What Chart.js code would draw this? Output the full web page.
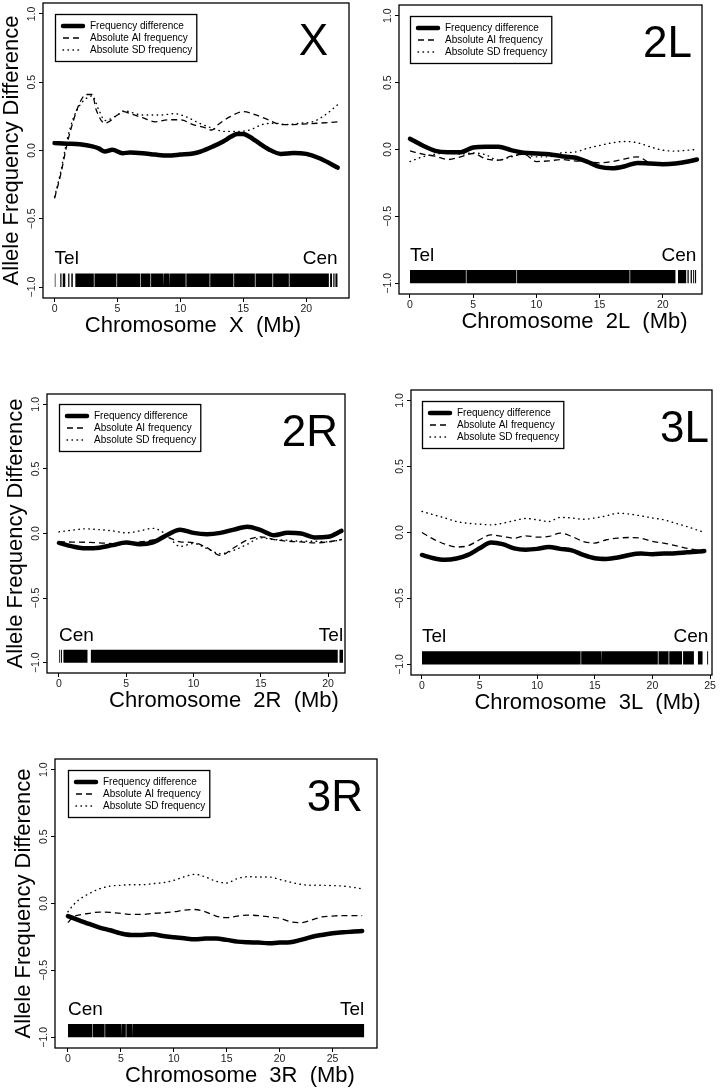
<!DOCTYPE html>
<html>
<head>
<meta charset="utf-8">
<script src="https://cdn.jsdelivr.net/npm/chart.js@4.4.1/dist/chart.umd.min.js"></script>
<style>
  body { margin: 0; background: #fff; width: 725px; height: 1090px; position: relative; overflow: hidden; }
  canvas { position: absolute; }
</style>
</head>
<body>
<canvas id="cX"></canvas>
<canvas id="c2L"></canvas>
<canvas id="c2R"></canvas>
<canvas id="c3L"></canvas>
<canvas id="c3R"></canvas>
<script>
// ---- data (Mb positions and allele frequency values) ----
const legendLabels = ['Frequency difference', 'Absolute AI frequency', 'Absolute SD frequency'];

// chromosome X
const posX_fd = [0, 1, 2, 3, 3.5, 4, 4.6, 5.4, 6, 7, 8, 9, 10, 11, 11.6, 12.6, 13.4, 14, 14.5, 15, 15.5, 16, 17, 18, 19, 20, 21, 22, 22.5];
const fdX = [0.054, 0.05, 0.045, 0.03, 0.015, -0.008, 0.005, -0.02, -0.015, -0.02, -0.03, -0.037, -0.03, -0.022, -0.008, 0.03, 0.066, 0.1, 0.12, 0.12, 0.1, 0.07, 0.01, -0.025, -0.018, -0.025, -0.055, -0.1, -0.125];
const posX_ai = [0, 0.5, 1, 1.5, 2, 2.5, 3, 3.3, 4, 5, 5.5, 6, 7, 8, 9, 10, 11, 12, 12.5, 13, 14, 15, 16, 17, 18, 19, 20, 21, 22.5];
const aiX = [-0.35, -0.17, 0.05, 0.22, 0.35, 0.41, 0.41, 0.3, 0.2, 0.26, 0.285, 0.27, 0.24, 0.21, 0.225, 0.225, 0.19, 0.165, 0.15, 0.19, 0.25, 0.285, 0.26, 0.225, 0.19, 0.19, 0.195, 0.2, 0.21];
const posX_sd = [0, 0.5, 1, 1.5, 2, 2.5, 3, 3.5, 4, 5, 5.5, 7, 8.5, 9.5, 10.5, 11.5, 12.5, 13.5, 14.5, 15.5, 16.5, 17.5, 18.5, 19.5, 20.5, 21.5, 22.5];
const sdX = [-0.34, -0.15, 0.08, 0.24, 0.33, 0.38, 0.4, 0.3, 0.22, 0.26, 0.29, 0.26, 0.26, 0.27, 0.245, 0.2, 0.165, 0.14, 0.14, 0.15, 0.19, 0.2, 0.19, 0.2, 0.21, 0.26, 0.335];
const rugX = [[0, 0.07], [0.45, 0.55], [0.65, 0.85], [1.08, 1.18], [1.33, 1.45], [1.65, 3.12], [3.17, 4.92], [4.97, 6.82], [6.87, 7.62], [7.67, 8.62], [8.67, 9.12], [9.17, 10.42], [10.47, 12.32], [12.37, 14.22], [14.27, 15.92], [15.97, 17.32], [17.37, 18.62], [18.67, 21.8], [21.9, 22.05], [22.15, 22.25], [22.32, 22.5]];

// chromosome 2L
const pos2L = [0, 1, 2, 3, 4, 5, 6, 7, 8, 9, 10, 11, 12, 13, 14, 15, 16, 17, 18, 19, 20, 21, 22, 22.7];
const fd2L = [0.08, 0.03, -0.01, -0.02, -0.02, 0.015, 0.02, 0.02, -0.005, -0.025, -0.03, -0.035, -0.05, -0.06, -0.09, -0.13, -0.14, -0.125, -0.1, -0.105, -0.11, -0.105, -0.09, -0.075];
const ai2L = [-0.01, -0.035, -0.05, -0.075, -0.055, -0.03, -0.07, -0.08, -0.05, -0.035, -0.09, -0.085, -0.075, -0.085, -0.09, -0.1, -0.09, -0.07, -0.055, -0.1, -0.11, -0.105, -0.09, -0.078];
const sd2L = [-0.09, -0.055, -0.035, -0.025, -0.035, -0.025, -0.04, -0.08, -0.055, -0.035, -0.055, -0.055, -0.025, -0.02, 0.008, 0.03, 0.05, 0.06, 0.05, 0.02, -0.005, -0.012, -0.005, 0.0];
const rug2L = [[0, 4.42], [4.47, 8.42], [8.47, 17.37], [17.42, 21.0], [21.2, 21.85], [21.95, 22.05], [22.2, 22.3], [22.4, 22.48], [22.55, 22.65]];

// chromosome 2R
const pos2R = [0, 1, 2, 3, 4, 5, 6, 7, 8, 9, 10, 11, 12, 13, 14, 15, 16, 17, 18, 19, 20, 21];
const fd2R = [-0.073, -0.1, -0.115, -0.11, -0.09, -0.07, -0.083, -0.068, -0.013, 0.03, 0.005, -0.005, 0.005, 0.03, 0.052, 0.026, -0.013, 0.005, 0.0, -0.03, -0.026, 0.02];
const ai2R = [-0.065, -0.066, -0.068, -0.072, -0.078, -0.07, -0.065, -0.05, -0.03, -0.065, -0.07, -0.11, -0.17, -0.11, -0.05, -0.026, -0.047, -0.06, -0.065, -0.073, -0.065, -0.047];
const sd2R = [0.013, 0.026, 0.036, 0.03, 0.02, 0.005, 0.02, 0.04, -0.01, -0.1, -0.078, -0.117, -0.156, -0.13, -0.083, -0.034, -0.047, -0.052, -0.06, -0.06, -0.065, -0.047];
const rug2R = [[0, 0.06], [0.14, 0.22], [0.33, 2.12], [2.37, 20.72], [20.85, 21.12]];

// chromosome 3L
const pos3L = [0, 1, 2, 3, 4, 5, 6, 7, 8, 9, 10, 11, 12, 13, 14, 15, 16, 17, 18, 19, 20, 21, 22, 23, 24, 24.5];
const fd3L = [-0.17, -0.195, -0.207, -0.197, -0.17, -0.12, -0.076, -0.088, -0.12, -0.13, -0.124, -0.11, -0.124, -0.136, -0.17, -0.195, -0.2, -0.19, -0.17, -0.16, -0.164, -0.16, -0.157, -0.15, -0.144, -0.14];
const ai3L = [0.0, -0.05, -0.088, -0.11, -0.1, -0.055, -0.018, -0.03, -0.043, -0.025, -0.035, -0.03, -0.005, -0.03, -0.068, -0.08, -0.055, -0.043, -0.038, -0.043, -0.068, -0.08, -0.1, -0.12, -0.136, -0.144];
const sd3L = [0.16, 0.134, 0.11, 0.083, 0.07, 0.063, 0.058, 0.07, 0.09, 0.106, 0.096, 0.083, 0.114, 0.11, 0.1, 0.11, 0.126, 0.146, 0.14, 0.126, 0.11, 0.096, 0.07, 0.045, 0.015, 0.0];
const rug3L = [[0, 13.77], [13.82, 15.57], [15.62, 20.47], [20.53, 21.4], [21.46, 22.57], [22.66, 23.6], [23.95, 24.35], [24.75, 24.85]];

// chromosome 3R
const pos3R_fd = [0, 1, 2, 3, 4, 5, 6, 7, 8, 9, 10, 11, 12, 13, 14, 15, 16, 17, 18, 19, 20, 21, 22, 23, 24, 25, 26, 27, 27.8];
const fd3R = [-0.094, -0.124, -0.153, -0.18, -0.2, -0.223, -0.235, -0.235, -0.23, -0.243, -0.252, -0.26, -0.267, -0.262, -0.262, -0.272, -0.285, -0.29, -0.292, -0.297, -0.292, -0.29, -0.272, -0.25, -0.235, -0.223, -0.215, -0.21, -0.205];
const pos3R = [0, 0.5, 1, 2, 3, 4, 5, 6, 7, 8, 9, 10, 11, 12, 13, 14, 15, 16, 17, 18, 19, 20, 21, 22, 23, 24, 25, 26, 27, 27.8];
const ai3R = [-0.143, -0.1, -0.087, -0.074, -0.064, -0.067, -0.074, -0.082, -0.082, -0.074, -0.07, -0.062, -0.05, -0.045, -0.062, -0.094, -0.106, -0.094, -0.087, -0.09, -0.1, -0.11, -0.136, -0.143, -0.124, -0.1, -0.094, -0.09, -0.09, -0.09];
const sd3R = [-0.062, -0.012, 0.025, 0.074, 0.11, 0.13, 0.136, 0.14, 0.14, 0.148, 0.156, 0.173, 0.2, 0.218, 0.198, 0.166, 0.153, 0.186, 0.2, 0.198, 0.198, 0.18, 0.16, 0.143, 0.136, 0.136, 0.134, 0.13, 0.12, 0.11];
const rug3R = [[0, 2.32], [2.37, 3.47], [3.52, 5.02], [5.07, 5.47], [5.52, 6.07], [6.12, 28.0]];

// ---- layout ----
const FONT = "'Liberation Sans', Arial, Helvetica, sans-serif";
const RUG_TOP = -0.9, RUG_BOTTOM = -1.0;
const styles = [
  { w: 4.5, dash: [], cap: 'round' },
  { w: 1.3, dash: [6, 4], cap: 'butt' },
  { w: 1.4, dash: [0.5, 4.5], cap: 'round' }
];

const panels = [
  { id: 'cX', name: 'X', box: [43, 3, 349, 298], xMin: -0.92, xMax: 23.4, yTitle: true, ends: ['Tel', 'Cen'], labelGap: 21, titleShift: -3,
    fd: { x: posX_fd, y: fdX }, ai: { x: posX_ai, y: aiX }, sd: { x: posX_sd, y: sdX }, rug: rugX },
  { id: 'c2L', name: '2L', box: [399, 5, 702, 294], xMin: -0.87, xMax: 23.1, yTitle: false, ends: ['Tel', 'Cen'], labelGap: 10, titleShift: 24,
    fd: { x: pos2L, y: fd2L }, ai: { x: pos2L, y: ai2L }, sd: { x: pos2L, y: sd2L }, rug: rug2L },
  { id: 'c2R', name: '2R', box: [47, 394, 345, 673], xMin: -0.89, xMax: 21.26, yTitle: true, ends: ['Cen', 'Tel'], labelGap: 7, titleShift: 28,
    fd: { x: pos2R, y: fd2R }, ai: { x: pos2R, y: ai2R }, sd: { x: pos2R, y: sd2R }, rug: rug2R },
  { id: 'c3L', name: '3L', box: [411, 390, 712, 675], xMin: -0.95, xMax: 25.17, yTitle: false, ends: ['Tel', 'Cen'], labelGap: 3, titleShift: 26,
    fd: { x: pos3L, y: fd3L }, ai: { x: pos3L, y: ai3L }, sd: { x: pos3L, y: sd3L }, rug: rug3L },
  { id: 'c3R', name: '3R', box: [55, 759, 377, 1048], xMin: -1.22, xMax: 29.2, yTitle: true, ends: ['Cen', 'Tel'], labelGap: 14, titleShift: 24,
    fd: { x: pos3R_fd, y: fd3R }, ai: { x: pos3R, y: ai3R }, sd: { x: pos3R, y: sd3R }, rug: rug3R }
];

function rugPoints(segs) {
  const pts = [];
  segs.forEach(([s, e]) => {
    pts.push({ x: s, y: RUG_BOTTOM }, { x: s, y: RUG_TOP }, { x: e, y: RUG_TOP }, { x: e, y: RUG_BOTTOM });
  });
  return pts;
}

// box, legend, chromosome label, Tel/Cen and axis titles
const decor = {
  id: 'decor',
  afterDraw(chart, args, o) {
    const { ctx, chartArea: a, scales: { x, y } } = chart;
    ctx.save();
    ctx.strokeStyle = '#000';
    ctx.fillStyle = '#000';
    ctx.lineWidth = 1.3;
    ctx.setLineDash([]);
    ctx.strokeRect(a.left, a.top, a.right - a.left, a.bottom - a.top);

    // legend anchored at (0, 1.0)
    const lx = Math.round(x.getPixelForValue(0)), ly = Math.round(y.getPixelForValue(1.0));
    ctx.font = '10px ' + FONT;
    const tw = Math.max(...legendLabels.map(s => ctx.measureText(s).width));
    ctx.lineWidth = 1.3;
    ctx.strokeRect(lx + 0.5, ly + 0.5, 35 + tw + 4, 47);
    ctx.textAlign = 'left';
    ctx.textBaseline = 'middle';
    legendLabels.forEach((s, i) => {
      const yy = ly + 12 * (i + 1);
      ctx.save();
      ctx.lineWidth = styles[i].w;
      ctx.lineCap = styles[i].cap;
      ctx.setLineDash(styles[i].dash);
      ctx.beginPath();
      ctx.moveTo(lx + 8, yy);
      ctx.lineTo(lx + 28, yy);
      ctx.stroke();
      ctx.restore();
      ctx.fillText(s, lx + 35, yy);
    });

    // chromosome name
    ctx.font = '44px ' + FONT;
    ctx.textAlign = 'right';
    ctx.textBaseline = 'alphabetic';
    ctx.fillText(o.name, a.right - o.labelGap, a.top + 52);

    // Tel / Cen
    ctx.font = '19px ' + FONT;
    const ty = y.getPixelForValue(-0.83);
    ctx.textAlign = 'left';
    ctx.fillText(o.ends[0], x.getPixelForValue(0), ty);
    ctx.textAlign = 'right';
    ctx.fillText(o.ends[1], x.getPixelForValue(o.rugEnd), ty);

    // axis titles
    ctx.font = '22px ' + FONT;
    ctx.textAlign = 'center';
    ctx.fillText('Chromosome  ' + o.name + '  (Mb)', (a.left + a.right) / 2 + o.titleShift, a.bottom + 34);
    if (o.yTitle) {
      ctx.save();
      ctx.translate(a.left - 31, (a.top + a.bottom) / 2);
      ctx.rotate(-Math.PI / 2);
      ctx.textBaseline = 'middle';
      ctx.fillText('Allele Frequency Difference', 0, 0);
      ctx.restore();
    }
    ctx.restore();
  }
};

function makeChart(p) {
  const [l, t, r, b] = p.box;
  const W = r - l + 51, H = b - t + 46;
  const cv = document.getElementById(p.id);
  cv.width = W;
  cv.height = H;
  Object.assign(cv.style, { left: (l - 43) + 'px', top: (t - 4) + 'px', width: W + 'px', height: H + 'px' });

  const datasets = [p.fd, p.ai, p.sd].map((s, i) => ({
    label: legendLabels[i],
    data: s.x.map((xv, k) => ({ x: xv, y: s.y[k] })),
    borderColor: '#000',
    borderWidth: styles[i].w,
    borderDash: styles[i].dash,
    borderCapStyle: styles[i].cap,
    borderJoinStyle: 'round',
    pointRadius: 0,
    fill: false,
    cubicInterpolationMode: 'monotone'
  }));
  datasets.push({
    label: 'rug',
    data: rugPoints(p.rug),
    borderWidth: 0,
    borderColor: 'rgba(0,0,0,0)',
    backgroundColor: '#000',
    fill: { value: RUG_BOTTOM },
    pointRadius: 0,
    tension: 0
  });

  const tickFont = { family: FONT, size: 10.5 };
  new Chart(cv, {
    type: 'line',
    data: { datasets },
    options: {
      responsive: false,
      animation: false,
      events: [],
      layout: { padding: { top: 4, right: 8, left: 0, bottom: 0 } },
      plugins: {
        legend: { display: false },
        tooltip: { enabled: false },
        decor: { name: p.name, labelGap: p.labelGap, titleShift: p.titleShift, yTitle: p.yTitle,
                 ends: p.ends, rugEnd: p.rug[p.rug.length - 1][1] }
      },
      scales: {
        x: {
          type: 'linear', min: p.xMin, max: p.xMax,
          afterFit: s => { s.height = 42; },
          border: { display: false },
          grid: { drawOnChartArea: false, drawTicks: true, tickLength: 4, color: '#000', lineWidth: 1 },
          ticks: { stepSize: 5, includeBounds: false, autoSkip: false, maxRotation: 0, padding: 1, color: '#222', font: tickFont }
        },
        y: {
          type: 'linear', min: -1.08, max: 1.08,
          afterFit: s => { s.width = 43; },
          border: { display: false },
          grid: { drawOnChartArea: false, drawTicks: true, tickLength: 4, color: '#000', lineWidth: 1 },
          ticks: {
            stepSize: 0.5, includeBounds: false, minRotation: 90, maxRotation: 90, crossAlign: 'center',
            padding: -3, color: '#222', font: tickFont,
            callback: v => (Math.abs(v) < 1e-9 ? '0.0' : v.toFixed(1).replace('-', '\u2212'))
          }
        }
      }
    },
    plugins: [decor]
  });
}

panels.forEach(makeChart);
</script>
</body>
</html>
